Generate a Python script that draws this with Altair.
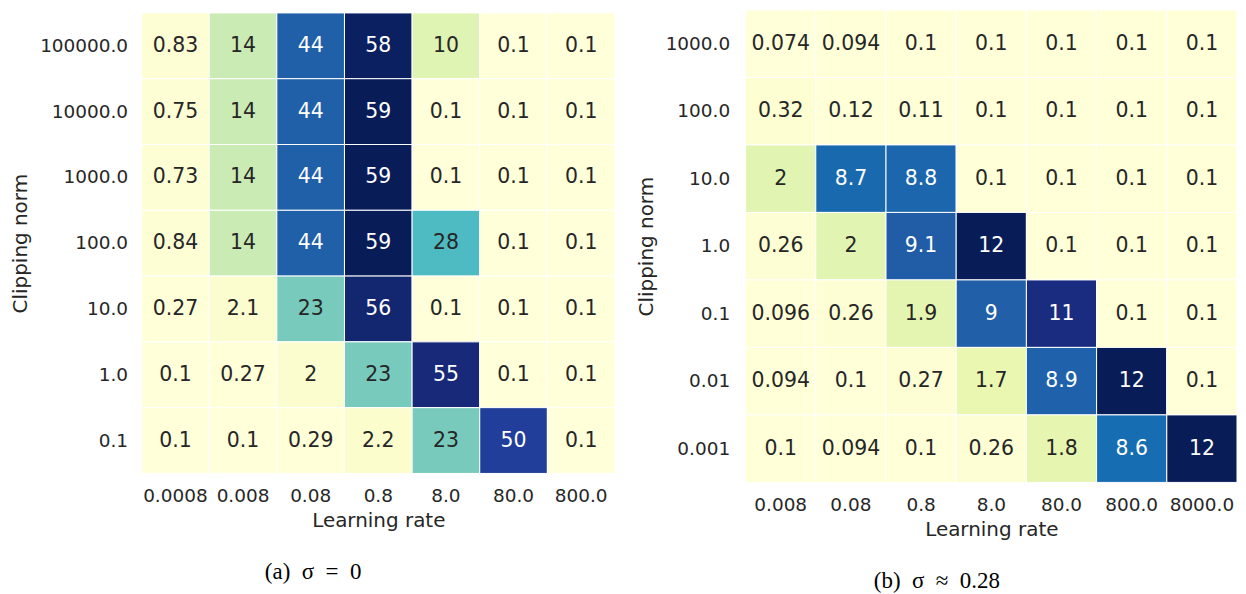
import altair as alt
import pandas as pd

# ---------------- data ----------------
lr_a = ["0.0008", "0.008", "0.08", "0.8", "8.0", "80.0", "800.0"]
clip_a = ["100000.0", "10000.0", "1000.0", "100.0", "10.0", "1.0", "0.1"]
vals_a = [
    [0.83, 14, 44, 58, 10, 0.1, 0.1],
    [0.75, 14, 44, 59, 0.1, 0.1, 0.1],
    [0.73, 14, 44, 59, 0.1, 0.1, 0.1],
    [0.84, 14, 44, 59, 28, 0.1, 0.1],
    [0.27, 2.1, 23, 56, 0.1, 0.1, 0.1],
    [0.1, 0.27, 2, 23, 55, 0.1, 0.1],
    [0.1, 0.1, 0.29, 2.2, 23, 50, 0.1],
]

lr_b = ["0.008", "0.08", "0.8", "8.0", "80.0", "800.0", "8000.0"]
clip_b = ["1000.0", "100.0", "10.0", "1.0", "0.1", "0.01", "0.001"]
vals_b = [
    [0.074, 0.094, 0.1, 0.1, 0.1, 0.1, 0.1],
    [0.32, 0.12, 0.11, 0.1, 0.1, 0.1, 0.1],
    [2, 8.7, 8.8, 0.1, 0.1, 0.1, 0.1],
    [0.26, 2, 9.1, 12, 0.1, 0.1, 0.1],
    [0.096, 0.26, 1.9, 9, 11, 0.1, 0.1],
    [0.094, 0.1, 0.27, 1.7, 8.9, 12, 0.1],
    [0.1, 0.094, 0.1, 0.26, 1.8, 8.6, 12],
]

caption_a = "(a)\u2002σ\u2002=\u20020"
caption_b = "(b)\u2002σ\u2002≈\u20020.28"

YLGNBU = ["#ffffd9", "#edf8b1", "#c7e9b4", "#7fcdbb", "#41b6c4",
          "#1d91c0", "#225ea8", "#253494", "#081d58"]

FONT = "DejaVu Sans"
TXT = "#262626"


def to_df(rows, cols, vals):
    recs = []
    for i, r in enumerate(rows):
        for j, c in enumerate(cols):
            recs.append({"clip": r, "lr": c, "v": vals[i][j]})
    return pd.DataFrame(recs)


def heatmap(rows, cols, vals, width, height, yrange, label_pad, caption):
    df = to_df(rows, cols, vals)
    flat = [v for r in vals for v in r]
    lo, hi = min(flat), max(flat)
    dom = [lo + (hi - lo) * k / 8 for k in range(9)]
    thr = lo + 0.6 * (hi - lo)

    x = alt.X("lr:N", sort=cols,
              axis=alt.Axis(title="Learning rate", labelAngle=0,
                            labelPadding=13, titlePadding=6))
    yscale = alt.Scale(range=yrange) if yrange else alt.Undefined
    y = alt.Y("clip:N", sort=rows, scale=yscale,
              axis=alt.Axis(title="Clipping norm", labelPadding=label_pad,
                            titlePadding=9))

    base = alt.Chart(df)
    rect = base.mark_rect(stroke="white", strokeWidth=1).encode(
        x=x, y=y,
        color=alt.Color("v:Q", scale=alt.Scale(domain=dom, range=YLGNBU),
                        legend=None),
    )
    text = base.mark_text(font=FONT, fontSize=20.5).encode(
        x=alt.X("lr:N", sort=cols),
        y=alt.Y("clip:N", sort=rows, scale=yscale),
        text=alt.Text("v:Q", format=".2~g"),
        color=alt.condition(f"datum.v > {thr}", alt.value("white"),
                            alt.value(TXT)),
    )
    return alt.layer(rect, text).properties(
        width=width, height=height,
        title=alt.TitleParams(caption, orient="bottom", anchor="middle",
                              frame="bounds", font="Liberation Serif",
                              fontSize=23, fontWeight="normal", color="black",
                              offset=30),
    )


left = heatmap(clip_a, lr_a, vals_a, 475, 465, [3, 465], 14, caption_a)
right = heatmap(clip_b, lr_b, vals_b, 493, 474, None, 16, caption_b)

chart = alt.hconcat(left, right, spacing=131, bounds="flush").resolve_scale(
    color="independent"
).properties(
    padding={"left": 2, "top": 0, "right": 0, "bottom": 0}
).configure_view(strokeWidth=0).configure_axis(
    domain=False, ticks=False, grid=False,
    labelFont=FONT, labelFontSize=18.5, labelColor=TXT,
    titleFont=FONT, titleFontSize=20, titleColor=TXT, titleFontWeight="normal",
)

chart.save("out.html", embed_options={"renderer": "svg", "actions": False})
